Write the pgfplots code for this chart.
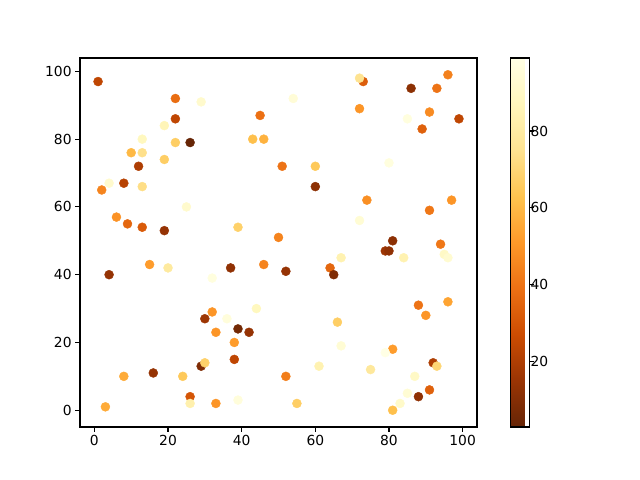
\documentclass[border=0pt]{standalone}
\usepackage{fontspec}
\setmainfont{DejaVu Sans}
\usepackage{pgfplots}
\usepackage{pgfplotstable}
\pgfplotsset{compat=1.18}

\pgfplotstableread{
x y c
1 97 24
22 92 38
29 91 92
22 86 24
45 87 39
19 84 86
13 80 88
22 79 67
26 79 3
43 80 62
46 80 58
10 76 60
13 76 74
51 72 40
12 72 20
19 74 67
4 67 92
8 67 22
2 65 45
13 66 73
25 60 92
6 57 49
9 55 36
13 54 32
19 53 14
39 54 68
50 51 45
73 97 33
72 98 75
96 99 44
86 95 12
93 95 40
54 92 95
72 89 50
91 88 47
85 86 97
99 86 24
89 83 34
60 72 65
80 73 97
60 66 12
74 62 48
97 62 50
91 59 41
72 56 94
81 50 12
15 43 52
20 42 79
4 40 14
32 39 97
37 42 13
46 43 45
44 30 88
32 29 50
36 27 96
30 27 16
39 24 6
42 23 14
33 23 50
38 20 52
38 15 24
29 13 9
30 14 68
8 10 56
16 11 14
24 10 65
26 4 30
26 2 83
33 2 50
39 3 96
3 1 56
94 49 41
79 47 16
80 47 13
95 46 90
96 45 93
84 45 84
67 45 84
64 42 36
65 40 9
52 41 14
88 31 40
96 32 54
90 28 50
66 26 67
67 19 94
81 18 52
79 17 99
61 13 84
92 14 20
93 13 70
52 10 43
75 12 78
87 10 90
91 6 34
85 5 94
88 4 13
83 2 91
81 0 62
55 2 67
}\points

\begin{document}
\begin{tikzpicture}[font=\fontsize{13.9}{16}\selectfont]
\path[use as bounding box] (0,0) rectangle (640bp,480bp);
\begin{axis}[
    at={(80bp,53bp)}, anchor=south west,
    scale only axis, width=397bp, height=369bp,
    xmin=-3.9, xmax=103.9, ymin=-4.95, ymax=103.95,
    xtick={0,20,...,100}, ytick={0,20,...,100},
    tick align=outside, major tick length=4.86bp,
    tick style={black, line width=1.11bp},
    axis line style={line width=1.11bp},
    xtick pos=bottom, ytick pos=left,
    /pgf/number format/assume math mode=true,
    colormap={ylorbrr}{rgb255=(102,37,6) rgb255=(153,52,4) rgb255=(204,76,2)
        rgb255=(236,112,20) rgb255=(254,153,41) rgb255=(254,196,79)
        rgb255=(254,227,145) rgb255=(255,247,188) rgb255=(255,255,229)},
    point meta min=3, point meta max=99,
    colorbar,
    colorbar style={
        at={(parent axis.north east)}, anchor=north west, xshift=25.3bp,
        scale only axis, width=18.5bp, height=369bp,
        ytick={20,40,60,80}, tick align=outside, major tick length=4.86bp,
        tick style={black, line width=1.11bp},
        axis line style={line width=1.11bp},
        ytick pos=right, yticklabel pos=right,
        yticklabel style={xshift=-7bp},
        /pgf/number format/assume math mode=true,
    },
]
\addplot[scatter, only marks, mark=*, mark size=4.5bp,
    scatter/use mapped color={draw=mapped color, fill=mapped color},
    scatter src=explicit] table[x=x, y=y, meta=c] {\points};
\end{axis}
\end{tikzpicture}
\end{document}
